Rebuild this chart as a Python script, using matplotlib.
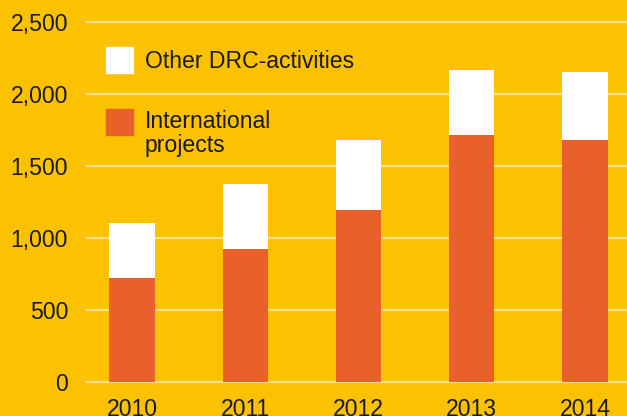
import matplotlib.pyplot as plt
from matplotlib.patches import Rectangle

years = ["2010", "2011", "2012", "2013", "2014"]
international = [725, 925, 1195, 1715, 1680]
other_drc = [380, 450, 485, 455, 470]
y_ticks = [0, 500, 1000, 1500, 2000, 2500]
y_labels = ["0", "500", "1,000", "1,500", "2,000", "2,500"]

bg = "#FCC100"
orange = "#E8612A"
grid_col = "#FDDF8C"
fs = 16.6

plt.rcParams["font.family"] = ["Liberation Sans", "DejaVu Sans"]

fig = plt.figure(figsize=(6.27, 4.16), dpi=100, facecolor=bg)
ax = fig.add_axes([0.1372, 0.0625, 0.8628, 0.9375], facecolor=bg)

x = range(len(years))
ax.bar(x, international, width=0.4, color=orange, zorder=3)
ax.bar(x, other_drc, width=0.4, bottom=international, color="white", zorder=3)

ax.set_xlim(-0.406, 4.371)
ax.set_ylim(-56, 2653)
ax.set_yticks(y_ticks)
ax.set_yticklabels(y_labels)
ax.set_xticks(list(x))
ax.set_xticklabels(years)
ax.tick_params(axis="y", length=0, pad=13, labelsize=fs, labelcolor="#1a1a1a")
ax.tick_params(axis="x", length=0, pad=6, labelsize=fs, labelcolor="#1a1a1a")
ax.grid(axis="y", color=grid_col, linewidth=1.6, zorder=1)
for s in ax.spines.values():
    s.set_visible(False)

# legend boxes and labels
W, H = 627, 416
def box(px, py, color):
    fig.patches.append(Rectangle((px / W, 1 - (py + 26) / H), 27 / W, 26 / H,
                                 transform=fig.transFigure, color=color, zorder=5))
box(106, 47, "white")
box(106, 109, orange)
fig.text(145 / W, 1 - 68 / H, "Other DRC-activities", fontsize=fs,
         color="#1a1a1a", va="baseline")
fig.text(145 / W, 1 - 128 / H, "International", fontsize=fs,
         color="#1a1a1a", va="baseline")
fig.text(145 / W, 1 - 152 / H, "projects", fontsize=fs,
         color="#1a1a1a", va="baseline")

plt.savefig("out.png", dpi=100, facecolor=bg)
